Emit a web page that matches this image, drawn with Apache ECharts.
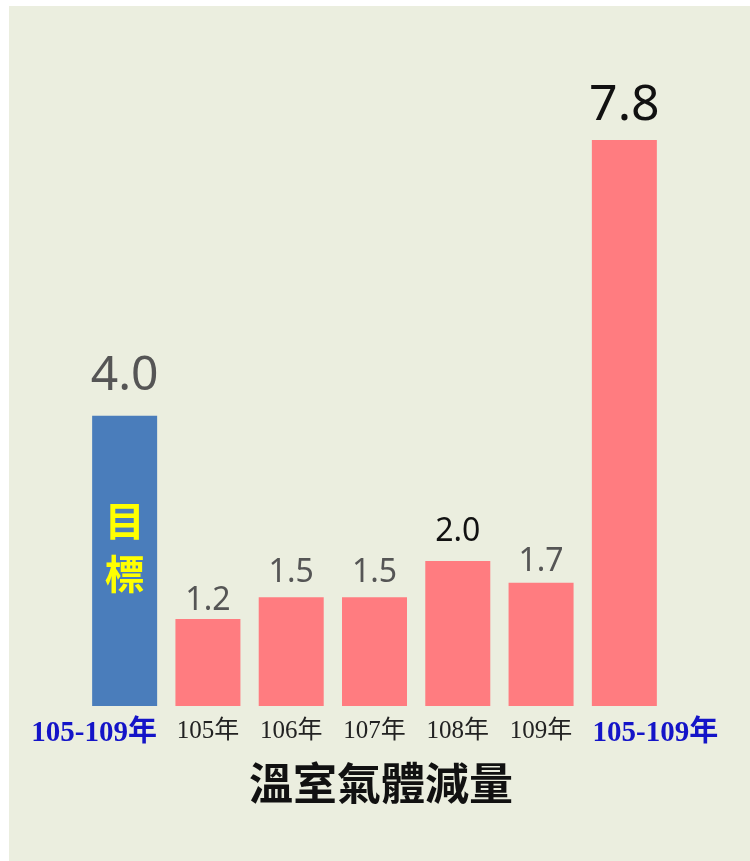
<!DOCTYPE html>
<html><head><meta charset="utf-8">
<script src="https://cdn.jsdelivr.net/npm/echarts@6/dist/echarts.min.js"></script>
<style>html,body{margin:0;padding:0;background:#fff;}#c{width:750px;height:861px;}</style>
</head><body><div id="c"></div>
<script>
const categories = ['105-109年', '105年', '106年', '107年', '108年', '109年', '105-109年'];
const values = [4.0, 1.2, 1.5, 1.5, 2.0, 1.7, 7.8];
const valueLabels = ['4.0', '1.2', '1.5', '1.5', '2.0', '1.7', '7.8'];
const targetText = '目\n標';
const titleText = '溫室氣體減量';

const BLUE = '#4a7dbb', PINK = '#ff7c80';
const labelStyle = [
  {fontSize: 48, color: '#555', distance: 15},
  {fontSize: 32, color: '#555', distance: 2},
  {fontSize: 32, color: '#555', distance: 8},
  {fontSize: 32, color: '#555', distance: 8},
  {fontSize: 32, color: '#111', distance: 13},
  {fontSize: 32, color: '#555', distance: 5},
  {fontSize: 50, color: '#111', distance: 9}
];
const data = values.map((v, i) => ({
  value: v,
  itemStyle: {color: i === 0 ? BLUE : PINK},
  label: Object.assign({show: true, position: 'top', fontFamily: 'Noto Sans', formatter: valueLabels[i]}, labelStyle[i])
}));

const boldStyle = {fontFamily: 'Liberation Serif, Noto Sans CJK TC', fontWeight: 'bold', fontSize: 29, color: '#1414c8'};
const chart = echarts.init(document.getElementById('c'));
chart.setOption({
  backgroundColor: '#ffffff',
  animation: false,
  graphic: [{type: 'rect', z: -10, silent: true, shape: {x: 9, y: 6, width: 741, height: 855}, style: {fill: '#ebeedf'}}],
  title: {text: titleText, left: 249, top: 761, padding: 0,
    textStyle: {fontFamily: 'Noto Sans CJK TC', fontWeight: 'bold', fontSize: 44, color: '#111'}},
  grid: {left: 83, right: 84, top: 53, bottom: 155},
  xAxis: {type: 'category', data: categories,
    axisLine: {show: false}, axisTick: {show: false},
    axisLabel: {margin: 13, interval: 0,
      formatter: (v, i) => i === 0 ? '{bl|' + v + '}' : (i === categories.length - 1 ? '{br|' + v + '}' : '{n|' + v + '}'),
      rich: {
        bl: Object.assign({padding: [0, 61, 0, 0]}, boldStyle),
        br: Object.assign({padding: [0, 0, 0, 62]}, boldStyle),
        n: {fontFamily: 'Liberation Serif, Noto Sans CJK TC', fontSize: 25, color: '#222'}
      }}},
  yAxis: {type: 'value', min: 0, max: 9, show: false, splitLine: {show: false}},
  series: [
    {type: 'bar', data: data, barWidth: 65},
    {type: 'bar', data: values.map((v, i) => i === 0 ? v : null), barWidth: 65, barGap: '-100%',
      itemStyle: {color: 'rgba(0,0,0,0)'},
      label: {show: true, position: 'inside', offset: [0, -14], formatter: targetText,
        fontFamily: 'Noto Sans CJK TC', fontWeight: 'bold', fontSize: 40, lineHeight: 53, color: '#ffff00'}}
  ]
});
</script></body></html>
